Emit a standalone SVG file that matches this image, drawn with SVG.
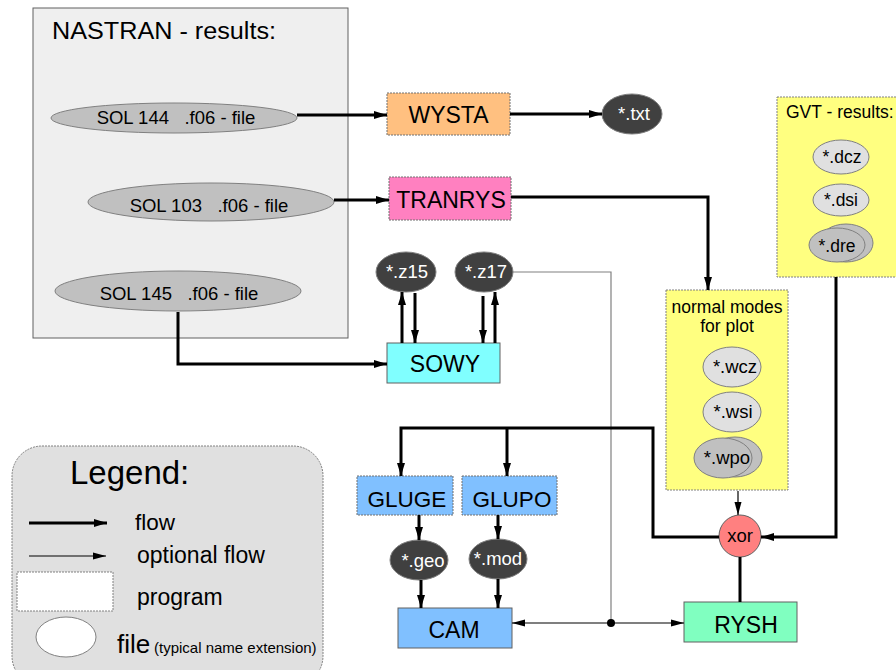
<svg xmlns="http://www.w3.org/2000/svg" width="896" height="670" viewBox="0 0 896 670">
<defs>
<marker id="ah" markerUnits="userSpaceOnUse" markerWidth="14" markerHeight="10" refX="13" refY="5" orient="auto"><path d="M0,1 L13,5 L0,9 Z" fill="#000"/></marker>
<marker id="ahs" markerUnits="userSpaceOnUse" markerWidth="14" markerHeight="10" refX="13" refY="5" orient="auto"><path d="M0,1.5 L13,5 L0,8.5 Z" fill="#000"/></marker>
</defs>
<style>
text{font-family:"Liberation Sans",Arial,sans-serif;fill:#000}
.c{text-anchor:middle}
.w{fill:#fff}
.prog{stroke:#707070;stroke-width:1;stroke-dasharray:2 1}
.solid{stroke:#606060;stroke-width:1}
.grp{stroke:#808080;stroke-width:1;stroke-dasharray:2 1}
.dark{fill:#404040;stroke:#808080;stroke-width:1}
.light{fill:#e0e0e0;stroke:#808080;stroke-width:1}
.mid{fill:#c0c0c0;stroke:#808080;stroke-width:1}
.thick{fill:none;stroke:#000;stroke-width:3}
.thin{fill:none;stroke:#000;stroke-width:1.2}
.p{font-size:23px}
.f{font-size:18.5px}
</style>
<rect width="896" height="670" fill="#fff"/>

<g id="nastran">
<rect x="33" y="8" width="315" height="330" fill="#efefef" stroke="#606060" stroke-width="1"/>
<text x="52" y="39" font-size="23" textLength="224" lengthAdjust="spacingAndGlyphs">NASTRAN - results:</text>
</g>
<g id="sol144">
<ellipse cx="174" cy="118" rx="123" ry="15" fill="#c0c0c0" stroke="#808080"/>
<text x="176" y="124" class="c f" xml:space="preserve">SOL 144   .f06 - file</text>
</g>
<g id="sol103">
<ellipse cx="211" cy="202" rx="123" ry="19" fill="#c0c0c0" stroke="#808080"/>
<text x="209" y="212" class="c f" xml:space="preserve">SOL 103   .f06 - file</text>
</g>
<g id="sol145">
<ellipse cx="178" cy="291" rx="123" ry="20" fill="#c0c0c0" stroke="#808080"/>
<text x="179" y="300" class="c f" xml:space="preserve">SOL 145   .f06 - file</text>
</g>

<g id="wysta">
<rect x="387" y="93" width="123" height="42" fill="#ffc080" class="prog"/>
<text x="448.5" y="123" class="c p">WYSTA</text>
</g>
<g id="txt">
<ellipse cx="632" cy="114" rx="30" ry="20" class="dark"/>
<text x="634" y="120" class="c f w">*.txt</text>
</g>
<g id="tranrys">
<rect x="389" y="177" width="122" height="43" fill="#ff80c0" class="prog"/>
<text x="451" y="208" class="c p">TRANRYS</text>
</g>

<g id="sowy">
<rect x="387" y="343" width="113" height="40" fill="#80ffff" class="solid"/>
<text x="445" y="372" class="c p">SOWY</text>
</g>
<g id="z15">
<ellipse cx="406" cy="272" rx="30" ry="20" class="dark"/>
<text x="407" y="278" class="c f w">*.z15</text>
</g>
<g id="z17">
<ellipse cx="484" cy="272" rx="29" ry="20" class="dark"/>
<text x="486" y="278" class="c f w">*.z17</text>
</g>

<g id="gvt">
<rect x="777" y="97" width="125" height="180" fill="#ffff80" class="grp"/>
<text x="786" y="118" font-size="17.5">GVT - results:</text>
<ellipse cx="841" cy="157" rx="28" ry="17" class="light"/>
<text x="842" y="163" class="c" font-size="17.5">*.dcz</text>
<ellipse cx="841" cy="200" rx="28" ry="16" class="light"/>
<text x="841" y="206" class="c" font-size="17.5">*.dsi</text>
<ellipse cx="846" cy="243" rx="27" ry="19" class="mid"/>
<ellipse cx="837" cy="245" rx="28" ry="17" class="mid"/>
<text x="837" y="252" class="c" font-size="17.5">*.dre</text>
</g>

<g id="normalmodes">
<rect x="666" y="290" width="122" height="200" fill="#ffff80" class="grp"/>
<text x="727" y="313" class="c" font-size="17.5">normal modes</text>
<text x="727" y="332" class="c" font-size="17.5">for plot</text>
<ellipse cx="732" cy="367" rx="29" ry="20" class="light"/>
<text x="735" y="373" class="c f">*.wcz</text>
<ellipse cx="732" cy="412" rx="29" ry="20" class="light"/>
<text x="733" y="418" class="c f">*.wsi</text>
<ellipse cx="735" cy="457" rx="27" ry="20" class="mid"/>
<ellipse cx="723" cy="458" rx="29" ry="20" class="mid"/>
<text x="727" y="464" class="c f">*.wpo</text>
</g>

<g id="xor">
<circle cx="740" cy="536" r="21" fill="#ff8080" stroke="#606060"/>
<text x="740" y="542" class="c f">xor</text>
</g>
<g id="rysh">
<rect x="684" y="602" width="113" height="40" fill="#80ffc0" class="solid"/>
<text x="746" y="633" class="c p">RYSH</text>
</g>
<g id="gluge">
<rect x="357" y="476" width="96" height="39" fill="#80c0ff" class="prog"/>
<text x="407" y="507" class="c" font-size="22.5">GLUGE</text>
</g>
<g id="glupo">
<rect x="462" y="476" width="95" height="39" fill="#80c0ff" class="prog"/>
<text x="512" y="507" class="c" font-size="22.5">GLUPO</text>
</g>
<g id="geo">
<ellipse cx="419" cy="560" rx="29" ry="20" class="dark"/>
<text x="423" y="567" class="c f w">*.geo</text>
</g>
<g id="mod">
<ellipse cx="498" cy="559" rx="29" ry="20" class="dark"/>
<text x="498" y="565" class="c f w">*.mod</text>
</g>
<g id="cam">
<rect x="398" y="608" width="114" height="40" fill="#80c0ff" class="solid"/>
<text x="454" y="638" class="c p">CAM</text>
</g>

<g id="connectors">
<path class="thick" d="M297 115 H387" marker-end="url(#ah)"/>
<path class="thick" d="M510 114 H602" marker-end="url(#ah)"/>
<path class="thick" d="M334 200 H389" marker-end="url(#ah)"/>
<path class="thick" d="M511 197 H708 V290" marker-end="url(#ah)"/>
<path class="thick" d="M178 312 V364 H387" marker-end="url(#ah)"/>
<path class="thick" d="M402 343 V292" marker-end="url(#ah)"/>
<path class="thick" d="M415 293 V343" marker-end="url(#ah)"/>
<path class="thick" d="M483 296 V343" marker-end="url(#ah)"/>
<path class="thick" d="M495 343 V292" marker-end="url(#ah)"/>
<path fill="none" stroke="#808080" stroke-width="1.2" d="M513 272 H611 V623"/>
<circle cx="611" cy="623" r="4" fill="#000"/>
<path class="thin" d="M611 623 H512" marker-end="url(#ahs)"/>
<path class="thin" d="M611 623 H684" marker-end="url(#ahs)"/>
<path class="thick" d="M836 277 V537 H761" marker-end="url(#ah)"/>
<path class="thin" d="M738 491 V515" marker-end="url(#ahs)"/>
<path class="thick" d="M740 557 V602"/>
<path class="thick" d="M719 537 H653 V428 H401 V476" marker-end="url(#ah)"/>
<path class="thick" d="M507 428 V476" marker-end="url(#ah)"/>
<path class="thick" d="M419 515 V540" marker-end="url(#ah)"/>
<path class="thick" d="M498 515 V539" marker-end="url(#ah)"/>
<path class="thick" d="M421 580 V608" marker-end="url(#ah)"/>
<path class="thick" d="M498 579 V608" marker-end="url(#ah)"/>
</g>

<g id="legend">
<rect x="12" y="446" width="311" height="240" rx="30" ry="30" fill="#e0e0e0" stroke="#808080" stroke-width="1" stroke-dasharray="2 1"/>
<text x="70" y="484" font-size="33">Legend:</text>
<path class="thick" d="M29 523 H107" marker-end="url(#ah)"/>
<text x="135" y="530" font-size="22.5">flow</text>
<path class="thin" d="M29 556 H106" marker-end="url(#ahs)"/>
<text x="137" y="563" font-size="23">optional flow</text>
<rect x="17" y="572" width="96" height="39" fill="#fff" stroke="#808080" stroke-dasharray="2 1"/>
<text x="137" y="605" font-size="23">program</text>
<ellipse cx="66" cy="637" rx="30" ry="20" fill="#fff" stroke="#808080"/>
<text x="117" y="653" font-size="26">file</text>
<text x="154" y="653" font-size="15">(typical name extension)</text>
</g>
</svg>
